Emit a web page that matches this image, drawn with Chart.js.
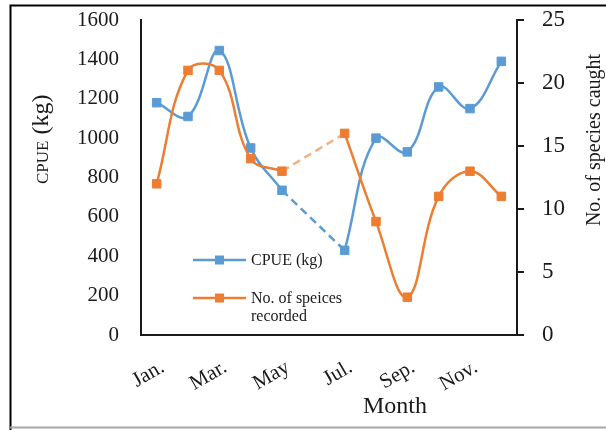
<!DOCTYPE html>
<html>
<head>
<meta charset="utf-8">
<title>CPUE and species caught by month</title>
<script src="https://cdn.jsdelivr.net/npm/chart.js@4.4.0/dist/chart.umd.min.js"></script>
<style>
  html, body { margin: 0; padding: 0; background: #fff; }
  #chartCpue { display: block; }
</style>
</head>
<body>
<canvas id="chartCpue" width="606" height="430"></canvas>
<script>
// months (only every other one is printed on the axis)
const MONTHS = ["Jan.", "Feb.", "Mar.", "Apr.", "May", "Jun.", "Jul.", "Aug.", "Sep.", "Oct.", "Nov.", "Dec."];
// CPUE in kg, no sample in June
const CPUE = [1180, 1110, 1445, 950, 735, null, 430, 1000, 930, 1260, 1150, 1390];
// number of species recorded
const SPECIES = [12, 21, 21, 14, 13, null, 16, 9, 3, 11, 13, 11];
// axis ranges: [min, max, step]
const CPUE_AXIS = [0, 1600, 200];
const SPECIES_AXIS = [0, 25, 5];

const BLUE = "#5b9bd5";
const ORANGE = "#ed7d31";
const ORANGE_LIGHT = "#f4b183";
const TEXT = "#1a1a1a";
const AXIS = "#1a1a1a";
const SERIF = "'Liberation Serif', 'Times New Roman', serif";

const el = (id) => document.getElementById(id);

// keep only the points on both sides of a missing month (for the dashed bridge)
const bridge = (arr) =>
  arr.map((v, i) => (arr[i - 1] === null || arr[i + 1] === null ? v : null));

// fixed axis sizes so the plot box lands where it is in the figure
const fixWidth = (w) => (s) => {
  s.width = w;
  s.paddingTop = 0;
  s.paddingBottom = 0;
};

// frame, axis titles and the legend box inside the plot
const decorations = {
  id: "decorations",
  beforeDraw(chart) {
    const c = chart.ctx;
    c.save();
    c.fillStyle = "#fff";
    c.fillRect(0, 0, chart.width, chart.height);
    c.restore();
  },
  afterDraw(chart) {
    const c = chart.ctx;
    c.save();
    // outer frame
    c.strokeStyle = "#000";
    c.lineWidth = 2;
    c.beginPath();
    c.moveTo(10.5, 430);
    c.lineTo(10.5, 5.5);
    c.lineTo(606, 5.5);
    c.stroke();
    c.strokeStyle = "#a6a6a6";
    c.beginPath();
    c.moveTo(10, 427.5);
    c.lineTo(606, 427.5);
    c.stroke();

    c.fillStyle = TEXT;
    c.textBaseline = "alphabetic";
    c.textAlign = "left";

    // left title, "CPUE" smaller than "(kg)"
    c.save();
    c.translate(48, 184);
    c.rotate(-Math.PI / 2);
    c.font = "17px " + SERIF;
    c.fillText("CPUE", 0, 0);
    const w = c.measureText("CPUE").width;
    c.font = "24px " + SERIF;
    c.fillText(" (kg)", w, 0);
    c.restore();

    // right title
    c.save();
    c.translate(600, 140);
    c.rotate(-Math.PI / 2);
    c.textAlign = "center";
    c.font = "20px " + SERIF;
    c.fillText("No. of species caught", 0, 0);
    c.restore();

    // x title
    c.textAlign = "center";
    c.font = "24px " + SERIF;
    c.fillText("Month", 395, 413);

    // legend
    const items = [
      { color: BLUE, y: 260, lines: ["CPUE (kg)"] },
      { color: ORANGE, y: 298, lines: ["No. of speices", "recorded"] },
    ];
    c.textAlign = "left";
    c.textBaseline = "middle";
    c.font = "16px " + SERIF;
    items.forEach((it) => {
      c.strokeStyle = it.color;
      c.lineWidth = 2.5;
      c.beginPath();
      c.moveTo(193, it.y);
      c.lineTo(246, it.y);
      c.stroke();
      c.fillStyle = it.color;
      c.fillRect(215, it.y - 4.5, 9, 9);
      c.fillStyle = TEXT;
      it.lines.forEach((t, k) => c.fillText(t, 251, it.y + 1 + k * 18));
    });
    c.restore();
  },
};

const mainSeries = (label, data, axis, color, order) => ({
  label,
  data,
  yAxisID: axis,
  order,
  borderColor: color,
  backgroundColor: color,
  pointBackgroundColor: color,
  pointBorderColor: color,
  borderWidth: 2.5,
  tension: 0.4,
  spanGaps: false,
  pointStyle: "rect",
  pointRadius: 6,
  pointBorderWidth: 1,
});

const gapSeries = (data, axis, color, order) => ({
  label: "",
  data: bridge(data),
  yAxisID: axis,
  order,
  borderColor: color,
  borderWidth: 2.5,
  borderDash: [8, 5],
  tension: 0,
  spanGaps: true,
  pointRadius: 0,
});

function renderChart() {
  const tickFont = (size) => ({ family: SERIF, size });
  return new Chart(el("chartCpue").getContext("2d"), {
    type: "line",
    data: {
      labels: MONTHS,
      datasets: [
        mainSeries("CPUE (kg)", CPUE, "y", BLUE, 2),
        mainSeries("No. of speices recorded", SPECIES, "y1", ORANGE, 0),
        gapSeries(CPUE, "y", BLUE, 3),
        gapSeries(SPECIES, "y1", ORANGE_LIGHT, 1),
      ],
    },
    options: {
      responsive: false,
      animation: false,
      layout: { padding: { top: 20, left: 0, right: 0, bottom: 0 } },
      plugins: { legend: { display: false }, tooltip: { enabled: false } },
      scales: {
        x: {
          offset: true,
          grid: { display: false, drawTicks: false },
          border: { color: AXIS, width: 2 },
          ticks: {
            autoSkip: false,
            minRotation: 30,
            maxRotation: 30,
            padding: 20,
            labelOffset: 6,
            color: TEXT,
            font: tickFont(21),
            callback: (v, i) => (i % 2 === 0 ? MONTHS[i] : ""),
          },
          afterFit: (s) => { s.height = 95; },
        },
        y: {
          position: "left",
          min: CPUE_AXIS[0],
          max: CPUE_AXIS[1],
          grid: { display: false, drawTicks: false },
          border: { color: AXIS, width: 2 },
          ticks: { stepSize: CPUE_AXIS[2], padding: 22, color: TEXT, font: tickFont(21), callback: (v) => String(v) },
          afterFit: fixWidth(141),
        },
        y1: {
          position: "right",
          min: SPECIES_AXIS[0],
          max: SPECIES_AXIS[1],
          grid: { drawOnChartArea: false, tickLength: 7, color: AXIS, lineWidth: 2 },
          border: { color: AXIS, width: 2 },
          ticks: { stepSize: SPECIES_AXIS[2], padding: 18, color: TEXT, font: tickFont(23), callback: (v) => String(v) },
          afterFit: fixWidth(89),
        },
      },
    },
    plugins: [decorations],
  });
}

document.addEventListener("DOMContentLoaded", () => {
  renderChart();
});
</script>
</body>
</html>
